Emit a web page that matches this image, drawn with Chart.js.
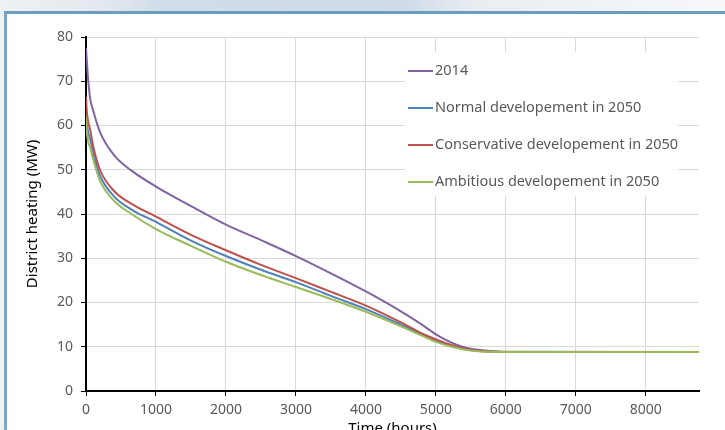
<!DOCTYPE html>
<html>
<head>
<meta charset="utf-8">
<script src="https://cdn.jsdelivr.net/npm/chart.js@4"></script>
<style>
  html, body { margin: 0; padding: 0; width: 725px; height: 430px; overflow: hidden; }
  body {
    background: linear-gradient(to right, #eef1f4 0%, #e4e9ef 14%, #d2dde9 22%, #d0dbe8 56%, #e9eef3 66%, #f6f8fa 100%);
    position: relative;
  }
  .frame {
    position: absolute; left: 4px; top: 11px; width: 760px; height: 460px;
    background: #fff;
    border-top: 3px solid #6b9dbf;
    border-left: 3px solid #7ba6c5;
  }
  #heatChart { position: absolute; left: 0; top: 0; }
</style>
</head>
<body>
<div class="frame"></div>
<canvas id="heatChart" width="725" height="445"></canvas>
<script>
// hours of the year (duration curve)
const hours = [0, 10, 30, 60, 100, 200, 400, 650, 1000, 1500, 2000, 2500, 3000, 3500, 4000, 4500, 4800, 5000, 5200, 5400, 5600, 5800, 6000, 8760];

const heat2014 =         [77.5, 75, 70.5, 66, 63.5, 58.5, 53.3, 49.8, 46.2, 41.8, 37.6, 34.1, 30.5, 26.6, 22.5, 18, 15, 12.8, 11.1, 9.9, 9.3, 9.0, 8.85, 8.8];
const normal2050 =       [64, 61, 58.5, 57, 54, 48.7, 44, 41, 38.2, 34, 30.5, 27.4, 24.6, 21.5, 18.5, 15, 12.8, 11.4, 10.3, 9.5, 9.1, 8.9, 8.8, 8.8];
const conservative2050 = [66.5, 63.5, 61, 59, 55.5, 50, 45.2, 42.3, 39.4, 35.3, 31.8, 28.5, 25.5, 22.4, 19.3, 15.5, 13, 11.7, 10.5, 9.6, 9.1, 8.9, 8.8, 8.8];
const ambitious2050 =    [62, 59, 56.5, 55, 52.5, 47.5, 43, 40, 36.6, 32.8, 29.2, 26.2, 23.5, 20.8, 17.9, 14.6, 12.5, 11.1, 10.1, 9.4, 9.0, 8.85, 8.8, 8.8];

const xTickValues = [0, 1000, 2000, 3000, 4000, 5000, 6000, 7000, 8000];

const seriesLabels = ['2014', 'Normal developement in 2050', 'Conservative developement in 2050', 'Ambitious developement in 2050'];
const seriesColors = ['#8064a2', '#4f81bd', '#c0504d', '#9bbb59'];

const toPoints = arr => arr.map((v, i) => ({ x: hours[i], y: v }));

const fontFamily = '"Noto Sans", "Liberation Sans", sans-serif';

// legend drawn inside the plot, on a white box
const insideLegend = {
  id: 'insideLegend',
  afterDatasetsDraw(chart) {
    const ctx = chart.ctx;
    ctx.save();
    ctx.fillStyle = '#fff';
    ctx.fillRect(405, 52, 273, 144);
    ctx.font = '14.5px ' + fontFamily;
    ctx.textBaseline = 'middle';
    chart.data.datasets.forEach((ds, i) => {
      const y = 71 + i * 37;
      ctx.strokeStyle = ds.borderColor;
      ctx.lineWidth = 2;
      ctx.beginPath();
      ctx.moveTo(408, y);
      ctx.lineTo(433, y);
      ctx.stroke();
      ctx.fillStyle = '#595959';
      ctx.fillText(ds.label, 435, y);
    });
    ctx.restore();
  }
};

const ctx = document.getElementById('heatChart');
new Chart(ctx, {
  type: 'line',
  data: {
    datasets: [heat2014, normal2050, conservative2050, ambitious2050].map((arr, i) => ({
      label: seriesLabels[i],
      data: toPoints(arr),
      borderColor: seriesColors[i],
      backgroundColor: seriesColors[i],
      borderWidth: 2,
      pointRadius: 0,
      cubicInterpolationMode: 'monotone',
      order: 3 - i
    }))
  },
  options: {
    responsive: false,
    animation: false,
    layout: { padding: { left: 0, right: 26, top: 37, bottom: 0 } },
    plugins: {
      legend: { display: false },
      tooltip: { enabled: false }
    },
    scales: {
      x: {
        type: 'linear',
        min: 0,
        max: 8760,
        afterBuildTicks: scale => { scale.ticks = xTickValues.map(v => ({ value: v })); },
        afterFit: scale => { scale.height = 54; },
        ticks: {
          autoSkip: false,
          maxRotation: 0,
          color: '#595959',
          font: { size: 14, family: fontFamily },
          padding: 6,
          callback: v => String(v)
        },
        grid: { color: '#d9d9d9', tickColor: '#000', tickLength: 5 },
        border: { color: '#000', width: 2 },
        title: { display: true, text: 'Time (hours)', color: '#000', font: { size: 15, family: fontFamily }, padding: { top: 0, bottom: 7 } }
      },
      y: {
        min: 0,
        max: 80,
        afterFit: scale => { scale.width = 86; },
        ticks: { stepSize: 10, color: '#595959', font: { size: 14, family: fontFamily }, padding: 8 },
        grid: { color: '#d9d9d9', tickColor: '#000', tickLength: 5 },
        border: { color: '#000', width: 2 },
        title: { display: true, text: 'District heating (MW)', color: '#000', font: { size: 15, family: fontFamily }, padding: { top: 24, bottom: 0 } }
      }
    }
  },
  plugins: [insideLegend]
});
</script>
</body>
</html>
